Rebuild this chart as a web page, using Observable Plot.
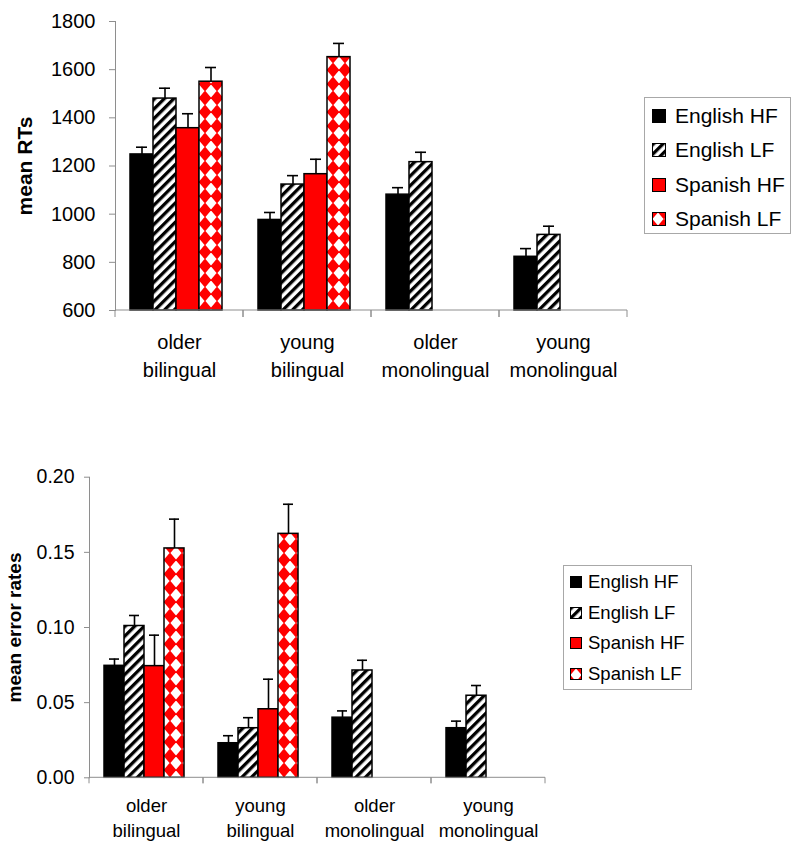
<!DOCTYPE html>
<html><head><meta charset="utf-8">
<script src="https://cdn.jsdelivr.net/npm/d3@7"></script>
<script src="https://cdn.jsdelivr.net/npm/@observablehq/plot@0.6"></script>
<style>
body{margin:0;background:#fff;font-family:"Liberation Sans",Arial,sans-serif;}
#wrap{position:relative;width:800px;height:850px;overflow:hidden;}
.chart{position:absolute;left:0;}
.legend{position:absolute;border:1px solid #a8a8a8;box-sizing:border-box;background:#fff;color:#000;}
.item{display:flex;align-items:center;white-space:nowrap;}
.item svg{flex:none;display:block;}
</style></head><body>
<div id="wrap">
<svg width="0" height="0" style="position:absolute;left:0;top:0">
 <defs>
  <pattern id="hatch" patternUnits="userSpaceOnUse" width="6.8" height="6.8" patternTransform="rotate(45)">
    <rect width="6.8" height="6.8" fill="white"/>
    <rect width="3.3" height="6.8" fill="black"/>
  </pattern>
  <pattern id="diamonds" patternUnits="userSpaceOnUse" width="12" height="14">
    <rect width="12" height="14" fill="white"/>
    <path fill="#ff0000" d="M0,-7.4L6.4,0L0,7.4L-6.4,0Z M12,-7.4L18.4,0L12,7.4L5.6,0Z M0,6.6L6.4,14L0,21.4L-6.4,14Z M12,6.6L18.4,14L12,21.4L5.6,14Z"/>
  </pattern>
 </defs>
</svg>
</div>
<script>
// ---------- data ----------
const groups = ["older bilingual", "young bilingual", "older monolingual", "young monolingual"];
const series = ["English HF", "English LF", "Spanish HF", "Spanish LF"];

// mean RTs (ms), by group
const rtEnglishHF = [1248, 976, 1081, 823];
const rtEnglishLF = [1480, 1123, 1216, 914];
const rtSpanishHF = [1357, 1166, null, null];
const rtSpanishLF = [1550, 1652, null, null];
// error bar sizes for RTs
const rtErrEnglishHF = [30, 31, 29, 34];
const rtErrEnglishLF = [43, 37, 41, 36];
const rtErrSpanishHF = [60, 62, null, null];
const rtErrSpanishLF = [59, 57, null, null];
const rtTicks = [600, 800, 1000, 1200, 1400, 1600, 1800];

// mean error rates, by group
const erEnglishHF = [0.0745, 0.023, 0.040, 0.033];
const erEnglishLF = [0.101, 0.033, 0.0714, 0.0546];
const erSpanishHF = [0.0743, 0.0456, null, null];
const erSpanishLF = [0.1526, 0.1623, null, null];
// error bar sizes for error rates
const erErrEnglishHF = [0.0045, 0.005, 0.0045, 0.0047];
const erErrEnglishLF = [0.007, 0.007, 0.0068, 0.0068];
const erErrSpanishHF = [0.0206, 0.020, null, null];
const erErrSpanishLF = [0.0195, 0.0197, null, null];
const erTicks = [0, 0.05, 0.10, 0.15, 0.20];

// ---------- build tables ----------
function buildRows(means, errs) {
  const out = [];
  series.forEach((s, si) => groups.forEach((g, gi) => {
    const m = means[si][gi];
    if (m != null) out.push({group: g, series: s, mean: m, top: m + errs[si][gi]});
  }));
  return out;
}
const rtRows = buildRows([rtEnglishHF, rtEnglishLF, rtSpanishHF, rtSpanishLF],
                         [rtErrEnglishHF, rtErrEnglishLF, rtErrSpanishHF, rtErrSpanishLF]);
const erRows = buildRows([erEnglishHF, erEnglishLF, erSpanishHF, erSpanishLF],
                         [erErrEnglishHF, erErrEnglishLF, erErrSpanishHF, erErrSpanishLF]);

// ---------- styling ----------
const FONT = '"Liberation Sans", Arial, sans-serif';
const GRAY = "#8e8e8e";
const fills = ["black", "url(#hatch)", "#ff0000", "url(#diamonds)"];

function chart(o) {
  const yMin = o.ticks[0], yMax = o.ticks[o.ticks.length - 1];
  const axisLine = (index, scales, values, dims) => {
    const y0 = scales.y(yMin);
    const l = dims.marginLeft, r = dims.width - dims.marginRight;
    const g = d3.create("svg:g").attr("stroke", GRAY).attr("stroke-width", 1).attr("fill", "none");
    g.append("line").attr("x1", l).attr("x2", r).attr("y1", y0).attr("y2", y0);
    for (const x of [l, r]) g.append("line").attr("x1", x).attr("x2", x).attr("y1", y0).attr("y2", y0 + o.tickSize + 1);
    return g.node();
  };
  return Plot.plot({
    width: 800, height: o.height,
    marginTop: o.mt, marginBottom: o.mb, marginLeft: o.ml, marginRight: o.mr,
    style: {fontFamily: FONT, color: "black", background: "transparent", overflow: "visible"},
    fx: {domain: groups, padding: 0, label: null},
    x: {domain: series, paddingInner: 0, paddingOuter: o.outer, align: o.align, axis: null},
    y: {domain: [yMin, yMax], axis: null},
    color: {domain: series, range: fills},
    marks: [
      Plot.barY(o.data, {fx: "group", x: "series", y1: yMin, y2: "mean", fill: "series", stroke: "black", strokeWidth: 1.5}),
      Plot.ruleX(o.data, {fx: "group", x: "series", y1: "mean", y2: "top", stroke: "black", strokeWidth: 1.6}),
      Plot.tickY(o.data, {fx: "group", x: "series", y: "top", stroke: "black", strokeWidth: 1.6, insetLeft: o.capInset, insetRight: o.capInset}),
      axisLine,
      Plot.frame({anchor: "left", facetAnchor: "left", stroke: GRAY}),
      Plot.axisY({ticks: o.ticks, tickFormat: o.tickFormat, tickSize: o.tickSize, tickPadding: o.tickPadding,
                  stroke: GRAY, fontSize: o.fontSize, label: null, facetAnchor: "left"}),
      Plot.text([o.label], {text: d => d, frameAnchor: "left", textAnchor: "middle", rotate: -90, lineAnchor: "top",
                  dx: -o.labelOffset, fontWeight: "bold", fontSize: o.labelSize, facetAnchor: "left"}),
      Plot.axisFx({anchor: "bottom", tickSize: 0, tickPadding: o.catPadding, fontSize: o.catSize, lineHeight: o.lineHeight,
                   tickFormat: d => d.replace(" ", "\n"), label: null})
    ]
  });
}

const top1 = chart({
  data: rtRows, ticks: rtTicks, tickFormat: d => String(d), label: "mean RTs",
  height: 420, mt: 21, mb: 110, ml: 114, mr: 172,
  outer: 0.76, align: 0.42, capInset: 6,
  tickSize: 6, tickPadding: 14, fontSize: 20, labelSize: 21, labelOffset: 98,
  catPadding: 19, catSize: 20, lineHeight: 1.4
});
top1.classList.add("chart"); top1.style.top = "0px";

const bottom1 = chart({
  data: erRows, ticks: erTicks, tickFormat: d3.format(".2f"), label: "mean error rates",
  height: 430, mt: 56.7, mb: 72.7, ml: 87, mr: 254,
  outer: 0.75, align: 0.45, capInset: 5,
  tickSize: 5, tickPadding: 10, fontSize: 19.5, labelSize: 19, labelOffset: 82,
  catPadding: 16, catSize: 18.5, lineHeight: 1.35
});
bottom1.classList.add("chart"); bottom1.style.top = "420px";

const wrap = document.getElementById("wrap");
wrap.appendChild(top1);
wrap.appendChild(bottom1);

function legend(p) {
  const box = d3.select(wrap).append("div").attr("class", "legend")
    .style("left", p.left + "px").style("top", p.top + "px")
    .style("width", p.width + "px").style("height", p.height + "px")
    .style("padding-top", p.padTop + "px").style("padding-left", p.padLeft + "px")
    .style("font-size", p.fontSize + "px");
  series.forEach((s, i) => {
    const it = box.append("div").attr("class", "item").style("height", p.itemHeight + "px");
    const sv = it.append("svg").attr("width", p.swatch).attr("height", p.swatch).style("margin-right", p.gap + "px");
    sv.append("rect").attr("x", 0.5).attr("y", 0.5).attr("width", p.swatch - 1).attr("height", p.swatch - 1)
      .attr("fill", fills[i]).attr("stroke", "black").attr("stroke-width", 1);
    it.append("span").text(s);
  });
}
legend({left: 644, top: 97, width: 147, height: 137, padTop: 1, padLeft: 7, swatch: 14, gap: 9, itemHeight: 34.3, fontSize: 21});
legend({left: 563, top: 565, width: 129, height: 125, padTop: 0.5, padLeft: 6, swatch: 12, gap: 6, itemHeight: 30.8, fontSize: 18.5});
</script>
</body></html>
